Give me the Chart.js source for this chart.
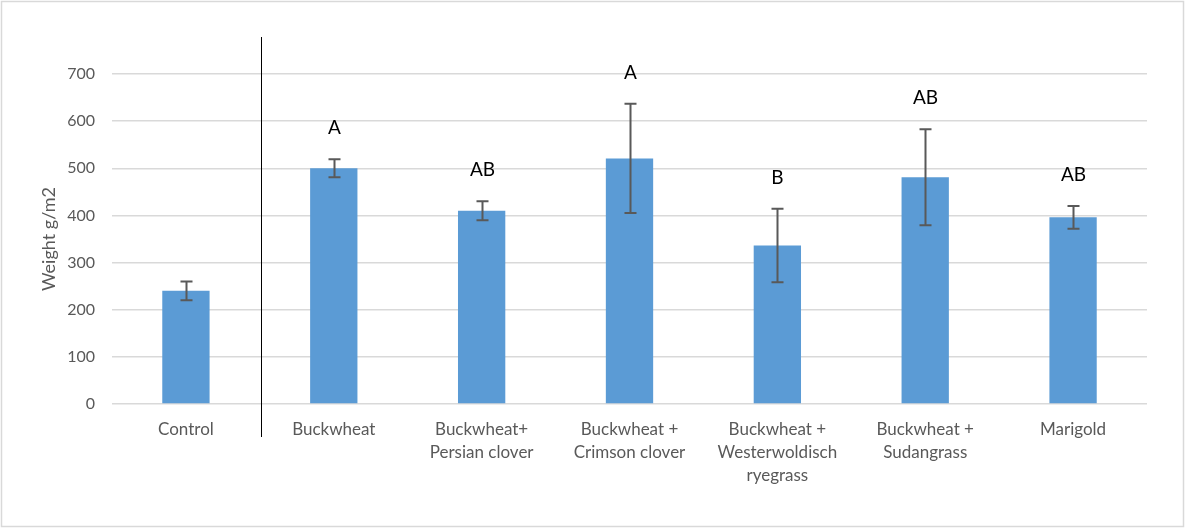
<!DOCTYPE html>
<html>
<head>
<meta charset="utf-8">
<script src="https://cdn.jsdelivr.net/npm/chart.js@4/dist/chart.umd.min.js"></script>
<style>
  html, body { margin: 0; padding: 0; background: #fff; }
  #wrap { width: 1185px; height: 528px; position: relative; }
</style>
</head>
<body>
<div id="wrap"><canvas id="c"></canvas></div>
<script>
// Treatments (multi-line category labels)
const categories = [
  ["Control"],
  ["Buckwheat"],
  ["Buckwheat+", "Persian clover"],
  ["Buckwheat +", "Crimson clover"],
  ["Buckwheat +", "Westerwoldisch", "ryegrass"],
  ["Buckwheat +", "Sudangrass"],
  ["Marigold"]
];
// Mean weight (g/m2) and standard error per treatment
const weights = [240, 500, 410, 521, 336, 481, 396];
const errors  = [20, 19, 20, 116, 78, 102, 24];
// Significance groups printed above the bars
const groups  = ["", "A", "AB", "A", "B", "AB", "AB"];
// Y axis tick values
const yTicks  = [0, 100, 200, 300, 400, 500, 600, 700];

const FONT = "Lato, 'Open Sans', sans-serif";
const GREY_TEXT = "#595959";

// Outer frame around the whole chart
const framePlugin = {
  id: "frame",
  afterDraw(chart) {
    const ctx = chart.ctx;
    ctx.save();
    ctx.strokeStyle = "#d9d9d9";
    ctx.lineWidth = 1.5;
    ctx.strokeRect(1.5, 1.5, chart.width - 3, chart.height - 3);
    ctx.restore();
  }
};

// Vertical divider between the control and the cover-crop treatments
const dividerPlugin = {
  id: "divider",
  afterDraw(chart) {
    const xs = chart.scales.x;
    const x = Math.round((xs.getPixelForValue(0) + xs.getPixelForValue(1)) / 2) + 1.5;
    const ctx = chart.ctx;
    ctx.save();
    ctx.strokeStyle = "#000";
    ctx.lineWidth = 1;
    ctx.beginPath();
    ctx.moveTo(x, 37);
    ctx.lineTo(x, 437);
    ctx.stroke();
    ctx.restore();
  }
};

// Error bars (mean ± SE) with caps, plus the group letters above them
const errorBarPlugin = {
  id: "errorBars",
  afterDatasetsDraw(chart) {
    const ctx = chart.ctx;
    const ys = chart.scales.y;
    const meta = chart.getDatasetMeta(0);
    ctx.save();
    meta.data.forEach((bar, i) => {
      const x = Math.round(bar.x) + 0.5;
      const top = ys.getPixelForValue(weights[i] + errors[i]);
      const bot = ys.getPixelForValue(weights[i] - errors[i]);
      ctx.strokeStyle = "#595959";
      ctx.lineWidth = 2;
      ctx.beginPath();
      ctx.moveTo(x, top); ctx.lineTo(x, bot);
      ctx.moveTo(x - 6, top); ctx.lineTo(x + 6, top);
      ctx.moveTo(x - 6, bot); ctx.lineTo(x + 6, bot);
      ctx.stroke();
      if (groups[i]) {
        ctx.fillStyle = "#000";
        ctx.font = "19px " + FONT;
        ctx.textAlign = "center";
        ctx.textBaseline = "middle";
        ctx.fillText(groups[i], x, top - 31);
      }
    });
    ctx.restore();
  }
};

new Chart(document.getElementById("c"), {
  type: "bar",
  data: {
    labels: categories,
    datasets: [{
      data: weights,
      backgroundColor: "#5b9bd5",
      borderWidth: 0,
      barPercentage: 0.64,
      categoryPercentage: 0.5
    }]
  },
  options: {
    responsive: true,
    maintainAspectRatio: false,
    animation: false,
    layout: { padding: { left: 38, right: 38, top: 74, bottom: 0 } },
    plugins: {
      legend: { display: false },
      tooltip: { enabled: false }
    },
    scales: {
      x: {
        grid: { display: false, drawTicks: false },
        border: { display: false },
        ticks: {
          color: GREY_TEXT,
          font: { family: FONT, size: 17, lineHeight: 1.36 },
          padding: 14,
          maxRotation: 0,
          autoSkip: false
        },
        afterFit(scale) { scale.height = 124; }
      },
      y: {
        min: 0,
        max: 700,
        afterBuildTicks(scale) { scale.ticks = yTicks.map(v => ({ value: v })); },
        grid: { color: "#d9d9d9", lineWidth: 1.5, drawTicks: false },
        border: { display: false },
        ticks: {
          color: GREY_TEXT,
          font: { family: FONT, size: 16 },
          padding: 17
        },
        title: {
          display: true,
          text: "Weight g/m2",
          color: GREY_TEXT,
          font: { family: FONT, size: 18 },
          padding: 0
        },
        afterFit(scale) { scale.width = 74; }
      }
    }
  },
  plugins: [framePlugin, dividerPlugin, errorBarPlugin]
});
</script>
</body>
</html>
